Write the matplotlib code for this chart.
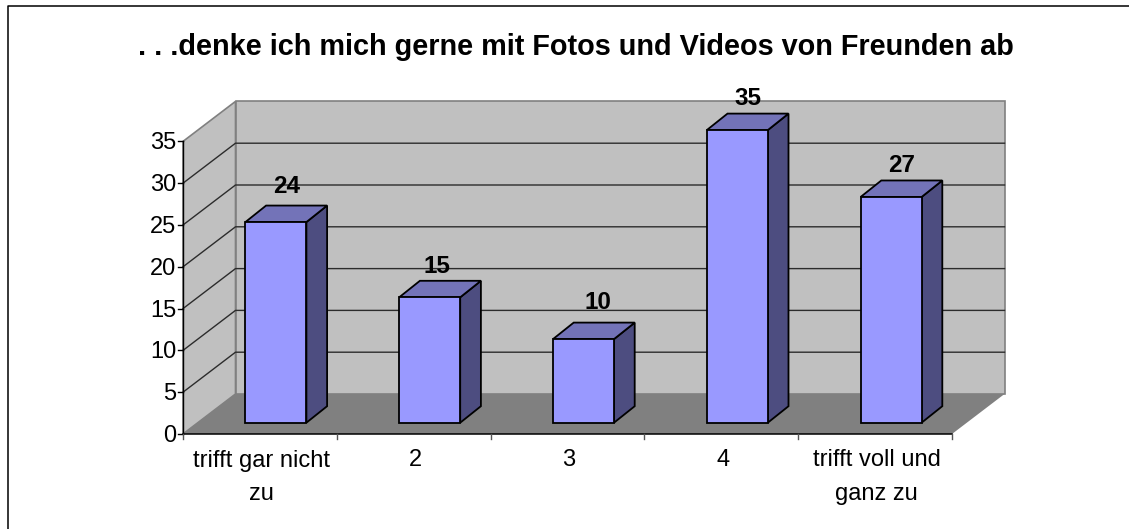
import matplotlib
matplotlib.use("Agg")
import matplotlib.pyplot as plt
from matplotlib.patches import Polygon

title = ". . .denke ich mich gerne mit Fotos und Videos von Freunden ab"
categories = ["trifft gar nicht\nzu", "2", "3", "4", "trifft voll und\nganz zu"]
values = [24, 15, 10, 35, 27]
y_ticks = [0, 5, 10, 15, 20, 25, 30, 35]
# the value labels do not sit at one fixed distance from the bars
label_shift_x = [0, -4, 3, 0, 0]
label_gap = [19, 14.5, 20.5, 15.5, 14.5]

W, H = 1129, 529
# pixel geometry of the plot box
X0, Y0 = 183.0, 434.0
CAT_W = 153.8
UNIT = 8.36
DEPTH_X, DEPTH_Y = 52.5, 40.0
YMAX = 35

plt.rcParams['font.family'] = ['Liberation Sans', 'DejaVu Sans']

fig = plt.figure(figsize=(W / 100, H / 100), dpi=100)
ax = fig.add_axes([0, 0, 1, 1])
# data units: x in categories, y in chart values
ax.set_xlim(-X0 / CAT_W, (W - X0) / CAT_W)
ax.set_ylim((Y0 - H) / UNIT, Y0 / UNIT)
ax.axis('off')

dx = DEPTH_X / CAT_W
dy = DEPTH_Y / UNIT
ncat = len(categories)


def poly(pts, fc, ec='none', lw=0, z=1):
    ax.add_patch(Polygon(pts, closed=True, facecolor=fc, edgecolor=ec, linewidth=lw, zorder=z, joinstyle='miter'))


# outer frame, only top and left are visible
frame_x = (7.5 - X0) / CAT_W
frame_y = (Y0 - 6.0) / UNIT
ax.plot([frame_x, frame_x, (W - X0) / CAT_W], [(Y0 - H) / UNIT, frame_y, frame_y], color='black', lw=1.1, zorder=0)

# walls and floor
wall_grey = '#c0c0c0'
edge_grey = '#808080'
poly([(0, 0), (dx, dy), (dx, YMAX + dy), (0, YMAX)], wall_grey, edge_grey, 1.2)
poly([(dx, dy), (ncat + dx, dy), (ncat + dx, YMAX + dy), (dx, YMAX + dy)], wall_grey, edge_grey, 1.2)
poly([(0, 0), (ncat, 0), (ncat + dx, dy), (dx, dy)], '#808080', z=2)

# gridlines
for t in y_ticks[1:-1]:
    ax.plot([0, dx, ncat + dx], [t, t + dy, t + dy], color='#2c2c2c', lw=1.0, zorder=2)

# axes
ax.plot([0, 0], [0, YMAX], color='black', lw=1.0, zorder=3)
ax.plot([0, ncat], [0, 0], color='black', lw=1.1, zorder=3)
for t in y_ticks:
    ax.plot([-5 / CAT_W, 0], [t, t], color='black', lw=1.0, zorder=3)
    ax.text(-7 / CAT_W, t - 2 / UNIT, str(t), ha='right', va='center', fontsize=17, color='black', zorder=5)
for i in range(ncat + 1):
    ax.plot([i, i], [0, -5 / UNIT], color='#555555', lw=1.0, zorder=3)
for i, c in enumerate(categories):
    ax.text(i + 0.5 + 1.5 / CAT_W, -15.5 / UNIT, c, ha='center', va='top', fontsize=17, linespacing=1.7,
            color='black', zorder=5)

# bars
bar_w = 61.0 / CAT_W
off_x = 16.0 / CAT_W
off_y = 11.3 / UNIT
side_x = 20.7 / CAT_W
side_y = 16.5 / UNIT
for i, v in enumerate(values):
    x0 = i + 0.5 - bar_w / 2 + off_x
    x1 = x0 + bar_w
    y0 = off_y
    y1 = off_y + v
    poly([(x1, y0), (x1 + side_x, y0 + side_y), (x1 + side_x, y1 + side_y), (x1, y1)], '#4d4d80', 'black', 1.3, 4)
    poly([(x0, y1), (x1, y1), (x1 + side_x, y1 + side_y), (x0 + side_x, y1 + side_y)], '#7373b8', 'black', 1.3, 4)
    poly([(x0, y0), (x1, y0), (x1, y1), (x0, y1)], '#9999ff', 'black', 1.3, 4)
    ax.text(x0 + bar_w / 2 + (11 + label_shift_x[i]) / CAT_W, y1 + side_y + label_gap[i] / UNIT, str(v),
            ha='center', va='center', fontsize=17.5, fontweight='bold', color='black', zorder=5)

ax.text((576 - X0) / CAT_W, (Y0 - 47) / UNIT, title, ha='center', va='center', fontsize=20.8, fontweight='bold',
        color='black', zorder=5)

fig.savefig("out.png", dpi=100, facecolor='white')
